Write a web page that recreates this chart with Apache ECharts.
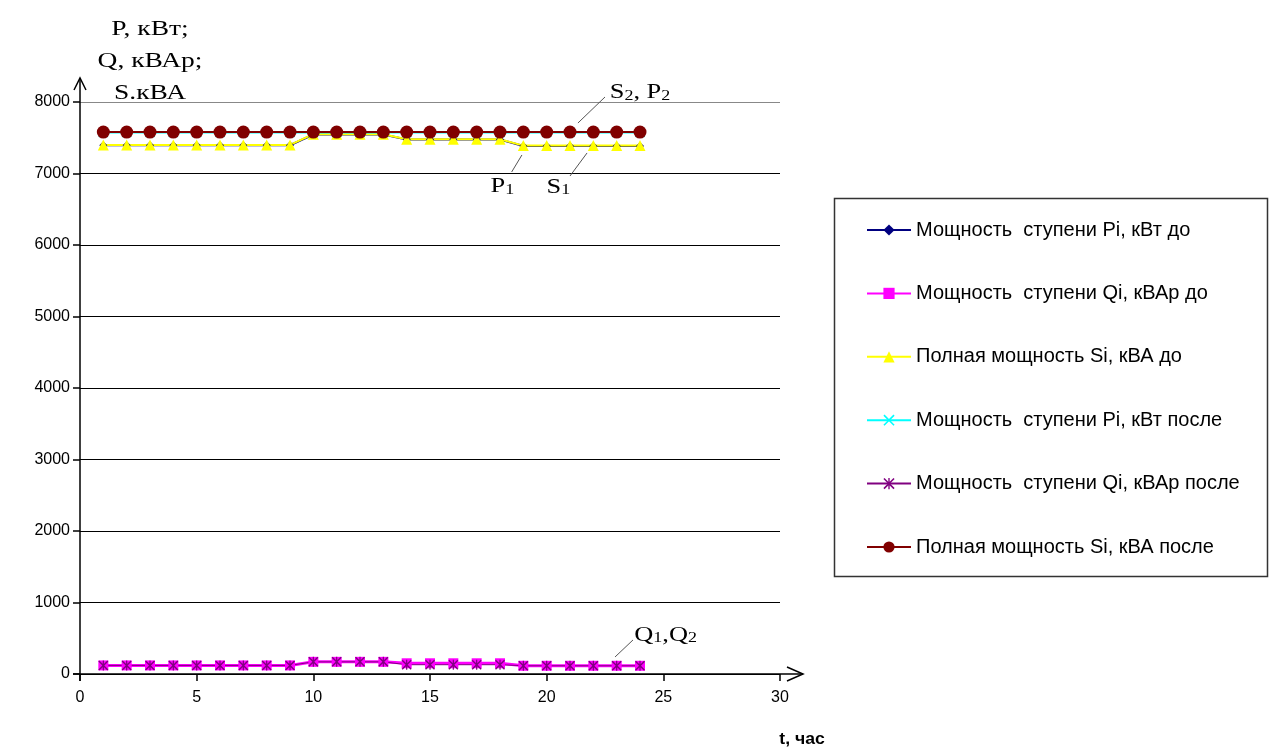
<!DOCTYPE html>
<html>
<head>
<meta charset="utf-8">
<script src="https://cdn.jsdelivr.net/npm/echarts@6/dist/echarts.min.js"></script>
<style>
  html, body { margin: 0; padding: 0; background: #ffffff; }
  #chart { width: 1270px; height: 749px; }
</style>
</head>
<body>
<div id="chart"></div>
<script>
// Hour of the day
const hours = [1, 2, 3, 4, 5, 6, 7, 8, 9, 10, 11, 12, 13, 14, 15, 16, 17, 18, 19, 20, 21, 22, 23, 24];

// Before compensation
const pBefore = [7395, 7395, 7395, 7395, 7395, 7395, 7395, 7395, 7395, 7545, 7545, 7545, 7545, 7475, 7475, 7475, 7475, 7475, 7385, 7385, 7385, 7385, 7385, 7385];
const qBefore = [120, 120, 120, 120, 120, 120, 120, 120, 120, 170, 170, 170, 170, 150, 150, 150, 150, 150, 115, 115, 115, 115, 115, 115];
const sBefore = [7400, 7400, 7400, 7400, 7400, 7400, 7400, 7400, 7400, 7550, 7550, 7550, 7550, 7480, 7480, 7480, 7480, 7480, 7390, 7390, 7390, 7390, 7390, 7390];

// After compensation
const pAfter = [7575, 7575, 7575, 7575, 7575, 7575, 7575, 7575, 7575, 7575, 7575, 7575, 7575, 7575, 7575, 7575, 7575, 7575, 7575, 7575, 7575, 7575, 7575, 7575];
const qAfter = [120, 120, 120, 120, 120, 120, 120, 120, 120, 170, 170, 170, 170, 130, 130, 130, 130, 130, 115, 115, 115, 115, 115, 115];
const sAfter = [7580, 7580, 7580, 7580, 7580, 7580, 7580, 7580, 7580, 7580, 7580, 7580, 7580, 7580, 7580, 7580, 7580, 7580, 7580, 7580, 7580, 7580, 7580, 7580];

const seriesNames = [
  'Мощность  ступени Pi, кВт до',
  'Мощность  ступени Qi, кВАр до',
  'Полная мощность Si, кВА до',
  'Мощность  ступени Pi, кВт после',
  'Мощность  ступени Qi, кВАр после',
  'Полная мощность Si, кВА после'
];

// Axis ticks
const xTicks = { min: 0, max: 30, step: 5 };
const yTicks = { min: 0, max: 8000, step: 1000 };

// Marker shapes
const CROSS = 'path://M0,1 L1,0 L5,4 L9,0 L10,1 L6,5 L10,9 L9,10 L5,6 L1,10 L0,9 L4,5 Z';
const STAR = 'path://M0,1 L1,0 L5,4 L9,0 L10,1 L6,5 L10,9 L9,10 L5,6 L1,10 L0,9 L4,5 Z M4.4,0 L5.6,0 L5.6,10 L4.4,10 Z';

const styles = [
  { color: '#000080', symbol: 'diamond', size: 8, width: 2 },
  { color: '#ff00ff', symbol: 'rect', size: 10, width: 3 },
  { color: '#ffff00', symbol: 'triangle', size: 11, width: 2 },
  { color: '#00ffff', symbol: CROSS, size: 10, width: 2 },
  { color: '#800080', symbol: STAR, size: 10, width: 1 },
  { color: '#800000', symbol: 'circle', size: 13, width: 2 }
];

const values = [pBefore, qBefore, sBefore, pAfter, qAfter, sAfter];

const series = values.map((vals, i) => ({
  name: seriesNames[i],
  type: 'line',
  data: hours.map((h, k) => [h, vals[k]]),
  symbol: styles[i].symbol,
  symbolSize: styles[i].size,
  showAllSymbol: true,
  color: styles[i].color,
  lineStyle: { color: styles[i].color, width: styles[i].width },
  itemStyle: { color: styles[i].color },
  emphasis: { disabled: true },
  animation: false
}));

const chart = echarts.init(document.getElementById('chart'), null, { renderer: 'canvas' });

const gridLineColors = ['#000', '#000', '#000', '#000', '#000', '#000', '#000', '#000', '#888'];

chart.setOption({
  backgroundColor: '#ffffff',
  animation: false,
  grid: { left: 80, right: 490, top: 102, bottom: 75, containLabel: false },
  xAxis: {
    type: 'value',
    min: xTicks.min, max: xTicks.max, interval: xTicks.step,
    axisLine: { show: false },
    axisTick: { show: true, length: 7, lineStyle: { color: '#000', width: 1.5 } },
    axisLabel: { color: '#000', fontFamily: 'Liberation Sans', fontSize: 16, margin: 16, formatter: v => String(v) },
    splitLine: { show: false }
  },
  yAxis: {
    type: 'value',
    min: yTicks.min, max: yTicks.max, interval: yTicks.step,
    axisLine: { show: false },
    axisTick: { show: true, length: 7, lineStyle: { color: '#000', width: 1.5 } },
    axisLabel: { color: '#000', fontFamily: 'Liberation Sans', fontSize: 16, margin: 10, formatter: v => String(v) },
    splitLine: { show: true, lineStyle: { color: gridLineColors, width: 1.2 } }
  },
  legend: {
    orient: 'vertical',
    left: 866, top: 220,
    padding: 0,
    itemWidth: 44, itemHeight: 14, itemGap: 43.4,
    textStyle: { color: '#000', fontFamily: 'Liberation Sans', fontSize: 20 },
    selectedMode: false,
    data: seriesNames
  },
  series: series
});

// Decorations anchored to the axes
const px = (x, y) => chart.convertToPixel({ gridIndex: 0 }, [x, y]);
const origin = px(0, 0);
const xEnd = px(30, 0);
const yTop = px(0, 8000);

const axisStyle = { stroke: '#000', lineWidth: 1.5, fill: null };
const graphics = [
  // y axis with arrow
  { type: 'polyline', shape: { points: [[origin[0], origin[1] + 7], [origin[0], yTop[1] - 24]] }, style: axisStyle, z: 10 },
  { type: 'polyline', shape: { points: [[origin[0] - 6, yTop[1] - 12], [origin[0], yTop[1] - 24], [origin[0] + 6, yTop[1] - 12]] }, style: axisStyle, z: 10 },
  // x axis with arrow
  { type: 'polyline', shape: { points: [[origin[0] - 7, origin[1]], [xEnd[0] + 23, origin[1]]] }, style: axisStyle, z: 10 },
  { type: 'polyline', shape: { points: [[xEnd[0] + 7, origin[1] - 7], [xEnd[0] + 23, origin[1]], [xEnd[0] + 7, origin[1] + 7]] }, style: axisStyle, z: 10 },
  // axis titles
  { type: 'text', x: origin[0] + 70, y: 13, scaleX: 1.25, style: { text: 'P, кВт;\nQ, кВАр;\nS.кВА', font: '22px "Liberation Serif"', fill: '#000', align: 'center', lineHeight: 32 }, z: 10 },
  { type: 'text', x: xEnd[0] + 22, y: 740, scaleX: 1.1, style: { text: 't, час', font: 'bold 16px "Liberation Sans"', fill: '#000', align: 'center', verticalAlign: 'middle' }, z: 10 },
  // legend frame
  { type: 'rect', shape: { x: 834.5, y: 198.5, width: 433, height: 378 }, style: { stroke: '#333', lineWidth: 1.5, fill: null }, z: 1 }
];

// Curve labels with leader lines (data coordinates)
const rich = {
  m: { font: '22px "Liberation Serif"', lineHeight: 26, verticalAlign: 'bottom', fill: '#000' },
  s: { font: '15px "Liberation Serif"', lineHeight: 12, verticalAlign: 'bottom', fill: '#000' }
};
const notes = [
  { text: '{m|S}{s|2}{m|, P}{s|2}', at: [24.0, 8165], from: [21.34, 7706], to: [22.5, 8070] },
  { text: '{m|P}{s|1}', at: [18.1, 6850], from: [18.94, 7259], to: [18.5, 7021] },
  { text: '{m|S}{s|1}', at: [20.5, 6840], from: [21.73, 7287], to: [21.0, 6965] },
  { text: '{m|Q}{s|1}{m|,Q}{s|2}', at: [25.1, 575], from: [22.93, 238], to: [23.7, 476] }
];
notes.forEach(n => {
  const a = px(n.at[0], n.at[1]);
  const f = px(n.from[0], n.from[1]);
  const t = px(n.to[0], n.to[1]);
  graphics.push({ type: 'line', shape: { x1: f[0], y1: f[1], x2: t[0], y2: t[1] }, style: { stroke: '#555', lineWidth: 1 }, z: 10 });
  graphics.push({ type: 'text', x: a[0], y: a[1], scaleX: 1.2, style: { text: n.text, rich: rich, align: 'center', verticalAlign: 'middle', fill: '#000' }, z: 10 });
});

chart.setOption({ graphic: graphics });
</script>
</body>
</html>
